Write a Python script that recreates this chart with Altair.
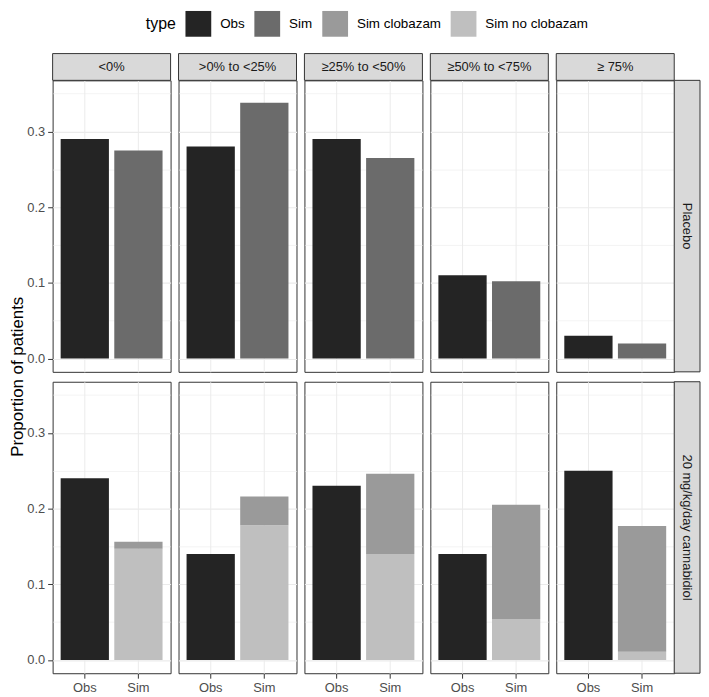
import altair as alt
import pandas as pd

# ---- data ----
cols = ["<0%", ">0% to <25%", "≥25% to <50%", "≥50% to <75%", "≥ 75%"]
rows_lbl = ["Placebo", "20 mg/kg/day cannabidiol"]
types = ["Obs", "Sim", "Sim clobazam", "Sim no clobazam"]
type_colors = ["#242424", "#6b6b6b", "#9a9a9a", "#bfbfbf"]

placebo_obs = [0.29, 0.28, 0.29, 0.11, 0.03]
placebo_sim = [0.275, 0.338, 0.265, 0.102, 0.02]
cbd_obs = [0.24, 0.14, 0.23, 0.14, 0.25]
cbd_sim_noclob = [0.147, 0.178, 0.140, 0.054, 0.011]
cbd_sim_clob = [0.009, 0.038, 0.106, 0.151, 0.166]

y_title = "Proportion of patients"

recs = []
for i, c in enumerate(cols):
    recs.append(dict(row=rows_lbl[0], col=c, x="Obs", type="Obs", value=placebo_obs[i], ord=0))
    recs.append(dict(row=rows_lbl[0], col=c, x="Sim", type="Sim", value=placebo_sim[i], ord=0))
    recs.append(dict(row=rows_lbl[1], col=c, x="Obs", type="Obs", value=cbd_obs[i], ord=0))
    recs.append(dict(row=rows_lbl[1], col=c, x="Sim", type="Sim no clobazam", value=cbd_sim_noclob[i], ord=0))
    recs.append(dict(row=rows_lbl[1], col=c, x="Sim", type="Sim clobazam", value=cbd_sim_clob[i], ord=1))
df = pd.DataFrame(recs)

W = 119
H = 294
STRIP = 27
ROWGAP = 10
FONT = "Liberation Sans"

minor_test = "round(datum.value*20) % 2 == 1"

bars = alt.Chart().mark_bar().encode(
    x=alt.X("x:N", title=None, sort=["Obs", "Sim"],
            scale=alt.Scale(paddingInner=0.1, paddingOuter=0.15),
            axis=alt.Axis(labelAngle=0, grid=True, bandPosition=0.5, domain=False)),
    y=alt.Y("value:Q", stack="zero", title=None,
            scale=alt.Scale(domain=[-0.0175, 0.3675], nice=False, zero=False),
            axis=alt.Axis(values=[0, 0.05, 0.1, 0.15, 0.2, 0.25, 0.3, 0.35],
                          labelExpr="round(datum.value*20) % 2 == 1 ? '' : format(datum.value, '.1f')",
                          tickOpacity={"condition": {"test": minor_test, "value": 0}, "value": 1},
                          gridWidth={"condition": {"test": minor_test, "value": 0.6}, "value": 1.1},
                          domain=False)),
    color=alt.Color("type:N", scale=alt.Scale(domain=types, range=type_colors),
                    legend=alt.Legend(title="type", orient="none", direction="horizontal",
                                      legendX=94, legendY=-70,
                                      titleOrient="left", symbolType="square", symbolSize=676,
                                      symbolStrokeWidth=0, labelFontSize=13.5, titleFontSize=16,
                                      titleFontWeight="normal", titleColor="#000000",
                                      labelColor="#000000", labelOffset=9, columnPadding=9.5,
                                      titlePadding=9)),
    order=alt.Order("ord:Q"),
)

top_src = alt.Chart().transform_filter(alt.datum.row == rows_lbl[0]).transform_aggregate(
    n="count()", groupby=["row", "col"])
top_rect = top_src.mark_rect(fill="#d9d9d9", stroke="#333333", strokeWidth=1).encode(
    x=alt.value(0), x2=alt.value(W), y=alt.value(-STRIP), y2=alt.value(0))
top_text = top_src.mark_text(fontSize=13, color="#1a1a1a", font=FONT).encode(
    x=alt.value(W / 2), y=alt.value(-STRIP / 2), text="col:N")

right_src = alt.Chart().transform_filter(alt.datum.col == cols[-1]).transform_aggregate(
    n="count()", groupby=["row", "col"])
right_rect = right_src.mark_rect(fill="#d9d9d9", stroke="#333333", strokeWidth=1).encode(
    x=alt.value(W), x2=alt.value(W + 26), y=alt.value(0), y2=alt.value(H))
right_text = right_src.mark_text(fontSize=13, color="#1a1a1a", angle=90, font=FONT).encode(
    x=alt.value(W + 13), y=alt.value(H / 2), text="row:N")

ytitle = alt.Chart().transform_filter(
    (alt.datum.row == rows_lbl[0]) & (alt.datum.col == cols[0])
).transform_aggregate(n="count()", groupby=["row", "col"]).mark_text(
    fontSize=17, color="#000000", angle=270, font=FONT, baseline="middle"
).encode(x=alt.value(-35), y=alt.value(H + ROWGAP / 2), text=alt.value(y_title))

layered = alt.layer(bars, top_rect, top_text, right_rect, right_text, ytitle).properties(width=W, height=H)

chart = layered.facet(
    data=df,
    row=alt.Row("row:N", sort=rows_lbl, header=None),
    column=alt.Column("col:N", sort=cols, header=None),
    spacing={"row": ROWGAP, "column": 8},
    bounds="flush",
).properties(
    padding={"left": 0, "top": 0, "right": 0, "bottom": 0}
).configure(font=FONT).configure_view(
    stroke="#333333", strokeWidth=1
).configure_axis(
    labelFontSize=13, labelColor="#4d4d4d", tickColor="#333333", tickSize=5,
    labelPadding=3, gridColor="#ebebeb"
)

chart.save("out.html", embed_options={"renderer": "svg", "actions": False})
